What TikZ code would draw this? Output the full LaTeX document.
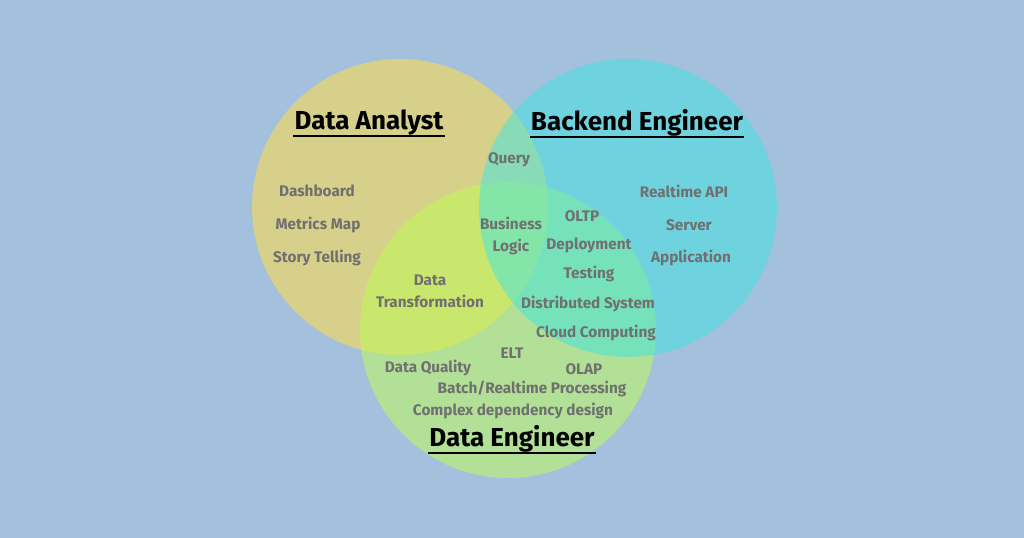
\documentclass[tikz,border=0pt]{standalone}
\usepackage{fontspec}
\setmainfont{Fira Sans}
\usepackage{tikz}
\usetikzlibrary{calc}
\definecolor{bgblue}{RGB}{163,193,220}
\definecolor{analyst}{RGB}{214,208,138}
\definecolor{backend}{RGB}{61,228,226}
\definecolor{engineer}{RGB}{191,255,82}
\definecolor{skill}{RGB}{112,112,112}
\tikzset{
  skilltext/.style={anchor=center,inner sep=0.75pt,text=skill,font=\fontsize{11.5}{16.5}\selectfont\bfseries,align=center},
  roletext/.style={anchor=center,inner sep=0.75pt,text=black,font=\fontsize{19.5}{22}\selectfont\bfseries},
  roleline/.style={line width=1.6pt,black}
}

\begin{document}
\begin{tikzpicture}[x=0.75pt,y=0.75pt,yscale=-1,xscale=1]
\useasboundingbox (0,0) rectangle (1024,538);
%Background
\fill[bgblue] (0,0) rectangle (1024,538);

%Shape: Circle Data Analyst
\fill[analyst] (400,207) circle [radius=148];
%Shape: Circle Data Engineer
\fill[engineer,fill opacity=0.5] (508,330) circle [radius=148];
%Shape: Circle Backend Engineer
\fill[backend,fill opacity=0.5] (628,208) circle [radius=149];

% Role titles
\node[roletext] (analyst) at (369,123) {Data Analyst};
\node[roletext] (backend) at (637,123) {Backend Engineer};
\node[roletext] (engineer) at (512,439) {Data Engineer};
\draw[roleline] ($(analyst.south west)+(0,-1)$) -- ($(analyst.south east)+(0,-1)$);
\draw[roleline] ($(backend.south west)+(0,-1)$) -- ($(backend.south east)+(0,-1)$);
\draw[roleline] ($(engineer.south west)+(0,-1)$) -- ($(engineer.south east)+(0,-1)$);

% Data Analyst only
\node[skilltext] (dashboard) at (317,191) {Dashboard};
\node[skilltext] (metrics) at (318,225) {Metrics Map};
\node[skilltext] (story) at (317,258) {Story Telling};
% Analyst and Backend
\node[skilltext] (query) at (509,160) {Query};
% Center
\node[skilltext] (business) at (511,236) {Business\\Logic};
% Analyst and Engineer
\node[skilltext] (transform) at (430,291) {Data\\Transformation};
% Backend only
\node[skilltext] (api) at (684,191) {Realtime API};
\node[skilltext] (server) at (689,225) {Server};
\node[skilltext] (application) at (691,258) {Application};
% Backend and Engineer
\node[skilltext] (oltp) at (582,216) {OLTP};
\node[skilltext] (deploy) at (589,245) {Deployment};
\node[skilltext] (testing) at (589,274) {Testing};
\node[skilltext] (distributed) at (588,304) {Distributed System};
\node[skilltext] (cloud) at (596,333) {Cloud Computing};
% Data Engineer only
\node[skilltext] (elt) at (512,353) {ELT};
\node[skilltext] (quality) at (428,368) {Data Quality};
\node[skilltext] (olap) at (584,369) {OLAP};
\node[skilltext] (batch) at (532,389) {Batch/Realtime Processing};
\node[skilltext] (complex) at (513,411) {Complex dependency design};

\end{tikzpicture}
\end{document}
